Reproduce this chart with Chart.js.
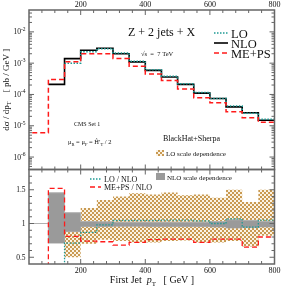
<!DOCTYPE html>
<html>
<head>
<meta charset="utf-8">
<script src="https://cdn.jsdelivr.net/npm/chart.js@4.4.1/dist/chart.umd.min.js"></script>
<style>
  html, body { margin: 0; padding: 0; background: #fff; }
  #plot { position: relative; width: 282px; height: 287px; }
  #plot canvas { position: absolute; left: 0; top: 0; }
</style>
</head>
<body>
<div id="plot">
  <canvas id="spectrum" width="282" height="287"></canvas>
  <canvas id="ratio" width="282" height="287"></canvas>
</div>
<script>
// first jet pT bins [GeV]
const binEdges = [50, 100, 150, 200, 250, 300, 350, 400, 450, 500, 550, 600, 650, 700, 750, 800];

// dsigma/dpT [pb/GeV], one value per bin
const loXsec   = [0, 0, 1.0e-3, 2.3e-3, 2.9e-3, 2.1e-3, 1.15e-3, 6.2e-4, 3.8e-4, 2.2e-4, 1.15e-4, 7.4e-5, 4.3e-5, 2.5e-5, 1.6e-5];
const nloXsec  = [0, 2.1e-4, 1.4e-3, 2.6e-3, 3.0e-3, 2.0e-3, 1.1e-3, 5.9e-4, 3.6e-4, 2.1e-4, 1.1e-4, 7.4e-5, 4.0e-5, 2.6e-5, 1.5e-5];
const mepsXsec = [6e-6, 3.0e-4, 1.1e-3, 2.0e-3, 2.0e-3, 1.4e-3, 8.0e-4, 4.5e-4, 2.8e-4, 1.5e-4, 7.8e-5, 5.4e-5, 2.8e-5, 1.8e-5, 1.3e-5];

// ratios to NLO (null = no entry)
const loOverNlo   = [null, 0, 0.71, 0.87, 0.98, 1.045, 1.045, 1.045, 1.05, 1.05, 1.04, 1.0, 1.07, 0.945, 1.05];
const mepsOverNlo = [0, 1.52, 0.81, 0.74, 0.73, 0.68, 0.72, 0.76, 0.77, 0.77, 0.72, 0.77, 0.77, 0.65, 0.80];
const nloBandLow  = [1, 0.71, 0.88, 0.955, 0.955, 0.96, 0.96, 0.955, 0.955, 0.955, 0.955, 0.95, 0.935, 0.94, 0.95];
const nloBandHigh = [1, 1.455, 1.16, 1.03, 1.025, 1.02, 1.02, 1.02, 1.02, 1.02, 1.02, 1.03, 1.055, 1.045, 1.03];
const loBandLow   = [null, null, 0.50, 0.70, 0.76, 0.74, 0.72, 0.72, 0.74, 0.75, 0.72, 0.72, 0.74, 0.66, 0.82];
const loBandHigh  = [null, null, 0.98, 1.23, 1.35, 1.40, 1.45, 1.43, 1.46, 1.42, 1.43, 1.38, 1.50, 1.32, 1.50];

// tick labels
const xTicks = [200, 400, 600, 800];
const logTicks = [1e-6, 1e-5, 1e-4, 1e-3, 1e-2];
const ratioTicks = [0.5, 1, 1.5];

const xMin = 40, xMax = 800;
const yMin = 4e-7, yMax = 5e-2;
const rMin = 0.4, rMax = 1.8;

const FONT = "'Liberation Serif', 'Times New Roman', serif";
const AXIS = '#666';
const TEAL = '#1f9a94';
const RED = '#ff1a1a';
const GRAY = '#9a9a9a';

// histogram outline as points for a stepped line
function steps(vals, fromAxis) {
    const pts = [];
    vals.forEach((v, i) => {
        if (v === null) return;
        if (fromAxis && !pts.length) pts.push({ x: binEdges[i], y: 0 });
        pts.push({ x: binEdges[i], y: v });
    });
    pts.push({ x: binEdges[vals.length], y: vals[vals.length - 1] });
    return pts;
}

function checker(ctx) {
    const tile = document.createElement('canvas');
    tile.width = 4; tile.height = 4;
    const g = tile.getContext('2d');
    g.fillStyle = '#fbf3e4';
    g.fillRect(0, 0, 4, 4);
    g.fillStyle = '#c99a52';
    g.fillRect(0, 0, 2, 2);
    g.fillRect(2, 2, 2, 2);
    return ctx.createPattern(tile, 'repeat');
}

function seg(ctx, x1, y1, x2, y2) {
    ctx.beginPath();
    ctx.moveTo(x1, y1);
    ctx.lineTo(x2, y2);
    ctx.stroke();
}

// text pieces: [text, size, baseline shift, italic]
function rich(ctx, parts, x, y, align) {
    const fontOf = p => (p[3] ? 'italic ' : '') + p[1] + 'px ' + FONT;
    let w = 0;
    parts.forEach(p => { ctx.font = fontOf(p); w += ctx.measureText(p[0]).width; });
    let cx = align === 'right' ? x - w : align === 'center' ? x - w / 2 : x;
    ctx.textAlign = 'left';
    ctx.textBaseline = 'alphabetic';
    parts.forEach(p => {
        ctx.font = fontOf(p);
        ctx.fillText(p[0], cx, y + (p[2] || 0));
        cx += ctx.measureText(p[0]).width;
    });
}

function sample(ctx, x1, x2, y, color, width, dash) {
    ctx.save();
    ctx.strokeStyle = color;
    ctx.lineWidth = width;
    ctx.setLineDash(dash);
    seg(ctx, x1, y, x2, y);
    ctx.restore();
}

// box with inward ticks on all four sides
function frame(ctx, a, xs, yTickPx) {
    ctx.save();
    ctx.strokeStyle = AXIS;
    ctx.lineWidth = 1;
    for (let v = xMin + 40; v < xMax; v += 40) {
        const px = xs.getPixelForValue(v);
        const len = v % 200 === 0 ? 5 : 3;
        seg(ctx, px, a.top, px, a.top + len);
        seg(ctx, px, a.bottom, px, a.bottom - len);
    }
    yTickPx.forEach(([py, major]) => {
        const len = major ? 5 : 3;
        seg(ctx, a.left, py, a.left + len, py);
        seg(ctx, a.right, py, a.right - len, py);
    });
    ctx.lineWidth = 1.5;
    ctx.strokeRect(a.left, a.top, a.right - a.left, a.bottom - a.top);
    ctx.restore();
}

function line(data, color, width, dash, order) {
    return {
        data: data, stepped: 'before', borderColor: color, borderWidth: width,
        borderDash: dash, pointRadius: 0, fill: false, order: order
    };
}

function baseOptions(padding, yScale) {
    return {
        responsive: false,
        animation: false,
        events: [],
        layout: { padding: padding },
        plugins: { legend: { display: false }, tooltip: { enabled: false } },
        scales: {
            x: { type: 'linear', min: xMin, max: xMax, display: false },
            y: yScale
        }
    };
}

const spectrumCtx = document.getElementById('spectrum').getContext('2d');
const ratioCtx = document.getElementById('ratio').getContext('2d');
const hatchTop = checker(spectrumCtx);
const hatchRatio = checker(ratioCtx);

const spectrumDecor = {
    id: 'spectrumDecor',
    afterDraw(chart) {
        const { ctx, chartArea: a, scales: { x, y } } = chart;
        const ticks = [];
        for (let d = -7; d <= -1; d++) {
            for (let m = 1; m <= 9; m++) {
                const v = m * Math.pow(10, d);
                if (v > yMin * 1.001 && v < yMax * 0.999) ticks.push([y.getPixelForValue(v), m === 1]);
            }
        }
        frame(ctx, a, x, ticks);

        ctx.save();
        ctx.fillStyle = '#111';
        xTicks.forEach(v => rich(ctx, [[String(v), 8]], x.getPixelForValue(v), a.top - 3.5, 'center'));
        logTicks.forEach(v => {
            const py = y.getPixelForValue(v);
            rich(ctx, [['10', 7.5], [String(Math.round(Math.log10(v))), 5.5, -3.5]], a.left - 3.5, py + 2.5, 'right');
        });

        ctx.save();
        ctx.translate(6, (a.top + a.bottom) / 2);
        ctx.rotate(-Math.PI / 2);
        rich(ctx, [['dσ / dp', 9], ['T', 6.5, 2], ['    [ pb / GeV ]', 9]], 0, 3, 'center');
        ctx.restore();

        rich(ctx, [['Z + 2 jets + X', 12]], 128, 36);
        rich(ctx, [['√s  =  7 TeV', 6.5]], 141, 55.5);
        rich(ctx, [['CMS Set 1', 6]], 74, 126);
        rich(ctx, [['μ', 6.5], ['R', 4.5, 1.5], [' = μ', 6.5], ['F', 4.5, 1.5], [' = Ĥ′', 6.5], ['T', 4.5, 1.5], [' / 2', 6.5]], 68, 144);
        rich(ctx, [['BlackHat+Sherpa', 8]], 163, 141);

        sample(ctx, 214, 228, 33, TEAL, 1.5, [1.5, 1.5]);
        sample(ctx, 214, 228, 43, '#000', 1.6, []);
        sample(ctx, 214, 228, 53, RED, 1.5, [5, 3]);
        rich(ctx, [['LO', 12.5]], 231, 37.5);
        rich(ctx, [['NLO', 12.5]], 231, 47.5);
        rich(ctx, [['ME+PS', 12.5]], 231, 57.5);

        ctx.fillStyle = hatchTop;
        ctx.fillRect(156, 150, 8, 6);
        ctx.fillStyle = '#111';
        rich(ctx, [['LO scale dependence', 7]], 166, 155.5);
        ctx.restore();
    }
};

const ratioDecor = {
    id: 'ratioDecor',
    afterDraw(chart) {
        const { ctx, chartArea: a, scales: { x, y } } = chart;
        const ticks = [];
        for (let k = Math.round(rMin * 10) + 1; k < Math.round(rMax * 10); k++) {
            ticks.push([y.getPixelForValue(k / 10), k % 5 === 0]);
        }
        frame(ctx, a, x, ticks);

        ctx.save();
        ctx.fillStyle = '#111';
        xTicks.forEach(v => rich(ctx, [[String(v), 8]], x.getPixelForValue(v), a.bottom + 8.5, 'center'));
        ratioTicks.forEach(v => rich(ctx, [[String(v), 7.5]], a.left - 3.5, y.getPixelForValue(v) + 2.7, 'right'));
        rich(ctx, [['First Jet  ', 10], ['p', 10, 0, true], ['T', 7, 2.5], ['   [ GeV ]', 10]], 152, 283, 'center');

        sample(ctx, 90, 101, 179, TEAL, 1.3, [1.5, 1.5]);
        sample(ctx, 90, 101, 187, RED, 1.3, [5, 3]);
        rich(ctx, [['LO / NLO', 8]], 104, 182);
        rich(ctx, [['ME+PS / NLO', 8]], 104, 190);

        ctx.fillStyle = GRAY;
        ctx.fillRect(156, 173, 9, 7);
        ctx.fillStyle = '#111';
        rich(ctx, [['NLO scale dependence', 7]], 167, 179.5);
        ctx.restore();
    }
};

new Chart(spectrumCtx, {
    type: 'line',
    data: {
        datasets: [
            line(steps(mepsXsec, true), RED, 1.5, [5, 3], 0),
            line(steps(loXsec, true), TEAL, 1.5, [1.5, 1.5], 1),
            line(steps(nloXsec, true), '#000', 1.6, [], 2)
        ]
    },
    options: baseOptions({ left: 29, right: 7.5, top: 10, bottom: 117.5 },
        { type: 'logarithmic', min: yMin, max: yMax, display: false }),
    plugins: [spectrumDecor]
});

const nloHigh = line(steps(nloBandHigh), '#b0b0b0', 1, [], 2);
nloHigh.fill = 3;
nloHigh.backgroundColor = GRAY;
const loHigh = line(steps(loBandHigh), 'transparent', 0, [], 4);
loHigh.fill = 5;
loHigh.backgroundColor = hatchRatio;

new Chart(ratioCtx, {
    type: 'line',
    data: {
        datasets: [
            line(steps(mepsOverNlo), RED, 1.3, [5, 3], 0),
            line(steps(loOverNlo), TEAL, 1.3, [1.5, 1.5], 1),
            nloHigh,
            line(steps(nloBandLow), '#b0b0b0', 1, [], 3),
            loHigh,
            line(steps(loBandLow), 'transparent', 0, [], 5)
        ]
    },
    options: baseOptions({ left: 29, right: 7.5, top: 169.5, bottom: 23 },
        { type: 'linear', min: rMin, max: rMax, display: false }),
    plugins: [ratioDecor]
});
</script>
</body>
</html>
